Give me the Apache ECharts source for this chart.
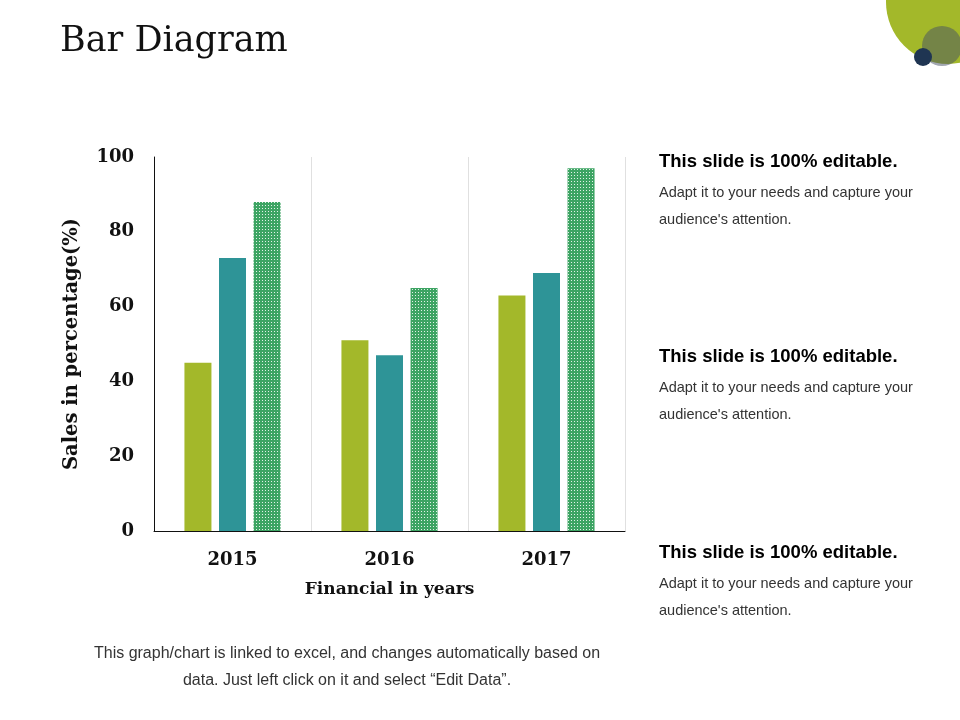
<!DOCTYPE html>
<html>
<head>
<meta charset="utf-8">
<script src="https://cdn.jsdelivr.net/npm/echarts@6/dist/echarts.min.js"></script>
<style>
  html, body { margin: 0; padding: 0; background: #fff; }
  #chart { width: 960px; height: 720px; }
</style>
</head>
<body>
<div id="chart"></div>
<script>
const years = ["2015", "2016", "2017"];
const seriesA = [45, 51, 63];
const seriesB = [73, 47, 69];
const seriesC = [88, 65, 97];
const yTicks = [0, 20, 40, 60, 80, 100];

const sideHeading = "This slide is 100% editable.";
const sideBody1 = "Adapt it to your needs and capture your";
const sideBody2 = "audience's attention.";

// dotted fill for the third series
const makeDots = () => {
  const c = document.createElement("canvas");
  c.width = 3;
  c.height = 3;
  const ctx = c.getContext("2d");
  ctx.fillStyle = "#3da463";
  ctx.fillRect(0, 0, 3, 3);
  ctx.fillStyle = "rgba(255,255,255,0.85)";
  ctx.fillRect(1, 1, 1, 1);
  return c;
};

const chart = echarts.init(document.getElementById("chart"));
const serif = "'DejaVu Serif', serif";
const sans = "'Liberation Sans', Arial, sans-serif";

const sideBlock = (y) => [
  {
    type: "text", left: 659, top: y,
    style: { text: sideHeading, font: "bold 18.5px " + sans, fill: "#000" }
  },
  {
    type: "text", left: 659, top: y + 33,
    style: { text: sideBody1, font: "14.5px " + sans, fill: "#333" }
  },
  {
    type: "text", left: 659, top: y + 60,
    style: { text: sideBody2, font: "14.5px " + sans, fill: "#333" }
  }
];

const option = {
  animation: false,
  grid: { left: 154, top: 157, width: 471, height: 374, containLabel: false },
  xAxis: {
    type: "category",
    data: years,
    name: "Financial in years",
    nameLocation: "middle",
    nameGap: 50,
    nameTextStyle: { fontFamily: serif, fontWeight: "bold", fontSize: 17, color: "#111" },
    axisLine: { lineStyle: { color: "#111", width: 1 } },
    axisTick: { show: false },
    axisLabel: { fontFamily: serif, fontWeight: "bold", fontSize: 18, color: "#111", margin: 20 },
    splitLine: { show: true, lineStyle: { color: "#e0e0e0" } }
  },
  yAxis: {
    type: "value",
    min: yTicks[0],
    max: yTicks[yTicks.length - 1],
    interval: 20,
    name: "Sales in percentage(%)",
    nameLocation: "middle",
    nameGap: 72,
    nameTextStyle: { fontFamily: serif, fontWeight: "bold", fontSize: 19.5, color: "#111" },
    axisLine: { show: true, lineStyle: { color: "#111", width: 1 } },
    axisTick: { show: false },
    axisLabel: { fontFamily: serif, fontWeight: "bold", fontSize: 18, color: "#111", margin: 20 },
    splitLine: { show: false }
  },
  series: [
    { type: "bar", data: seriesA, barWidth: 27, barGap: "28%", itemStyle: { color: "#a3b82a" } },
    { type: "bar", data: seriesB, barWidth: 27, barGap: "28%", itemStyle: { color: "#2e9497" } },
    { type: "bar", data: seriesC, barWidth: 27, barGap: "28%", itemStyle: { color: { image: makeDots(), repeat: "repeat" } } }
  ],
  graphic: [
    {
      type: "text", left: 60, top: 24,
      style: { text: "Bar Diagram", font: "35px " + serif, fill: "#111" }
    },
    { type: "circle", shape: { cx: 948, cy: 2, r: 62 }, style: { fill: "#a3b82a" } },
    { type: "circle", shape: { cx: 942, cy: 46, r: 20 }, style: { fill: "rgba(70,80,100,0.5)" } },
    { type: "circle", shape: { cx: 923, cy: 57, r: 9 }, style: { fill: "#1f3552" } },
    ...sideBlock(152),
    ...sideBlock(347),
    ...sideBlock(543),
    {
      type: "text", x: 347, y: 640,
      style: {
        text: "This graph/chart is linked to excel, and changes automatically based on\ndata. Just left click on it and select \u201cEdit Data\u201d.",
        font: "16px " + sans,
        fill: "#333",
        align: "center",
        lineHeight: 27
      }
    }
  ]
};

chart.setOption(option);
</script>
</body>
</html>
